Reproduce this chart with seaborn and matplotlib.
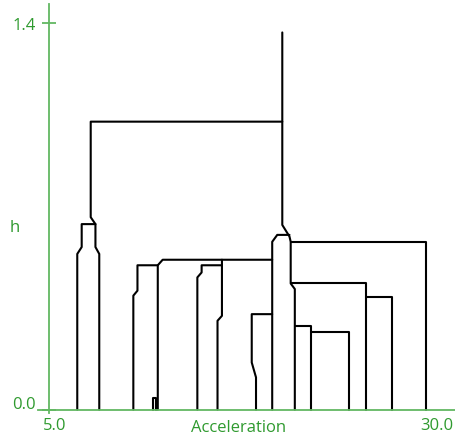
"""Mode tree of acceleration: mode locations traced across bandwidth h."""
import matplotlib
matplotlib.use("Agg")
import matplotlib.pyplot as plt
import pandas as pd
import seaborn as sns
from matplotlib.transforms import ScaledTranslation

sns.set_theme(style="white")
plt.rcParams["font.family"] = ["Open Sans", "DejaVu Sans"]

TEXT_GREEN = "#2f9a2f"
AXIS_GREEN = "#62b862"

# each trace: acceleration values and bandwidth h along the mode path
ROOT_ACC = [20.27, 20.27, 20.74, 20.82, 20.82, 21.09, 21.09]
ROOT_H = [1.366, 0.669, 0.627, 0.608, 0.457, 0.437, 0.0]
SPLIT_TOP_ACC = [19.61, 19.61, 19.94, 20.74]
SPLIT_TOP_H = [0.0, 0.608, 0.633, 0.633]
LEFT_ACC = [20.27, 7.73, 7.73, 8.04, 8.04, 8.29, 8.29]
LEFT_H = [1.043, 1.043, 0.697, 0.672, 0.589, 0.564, 0.0]
TOWER_ACC = [8.04, 7.14, 7.14, 6.85, 6.85]
TOWER_H = [0.672, 0.672, 0.589, 0.564, 0.0]
MID_ACC = [19.61, 12.44, 12.12, 12.12]
MID_H = [0.543, 0.543, 0.523, 0.0]
MID_LEFT_ACC = [12.12, 10.79, 10.79, 10.52, 10.52]
MID_LEFT_H = [0.523, 0.523, 0.431, 0.413, 0.0]
TINY_ACC = [11.84, 11.84, 11.98, 11.98]
TINY_H = [0.0, 0.044, 0.044, 0.0]
CENTER_ACC = [16.32, 16.32, 16.03, 16.03]
CENTER_H = [0.543, 0.340, 0.322, 0.0]
CENTER_LEFT_ACC = [16.32, 14.99, 14.99, 14.71, 14.71]
CENTER_LEFT_H = [0.523, 0.523, 0.497, 0.479, 0.0]
INNER_ACC = [19.61, 18.27, 18.27, 18.55, 18.55]
INNER_H = [0.346, 0.346, 0.171, 0.117, 0.0]
FAR_RIGHT_ACC = [20.82, 29.67, 29.67]
FAR_RIGHT_H = [0.608, 0.608, 0.0]
RIGHT_ACC = [20.82, 25.75, 25.75]
RIGHT_H = [0.457, 0.457, 0.0]
RIGHT_SUB_ACC = [25.75, 27.47, 27.47]
RIGHT_SUB_H = [0.409, 0.409, 0.0]
LOW_ACC = [21.09, 22.18, 22.18]
LOW_H = [0.304, 0.304, 0.0]
LOW_SUB_ACC = [22.18, 24.65, 24.65]
LOW_SUB_H = [0.280, 0.280, 0.0]

TRACES = [
    (ROOT_ACC, ROOT_H), (SPLIT_TOP_ACC, SPLIT_TOP_H), (LEFT_ACC, LEFT_H),
    (TOWER_ACC, TOWER_H), (MID_ACC, MID_H), (MID_LEFT_ACC, MID_LEFT_H),
    (TINY_ACC, TINY_H), (CENTER_ACC, CENTER_H), (CENTER_LEFT_ACC, CENTER_LEFT_H),
    (INNER_ACC, INNER_H), (FAR_RIGHT_ACC, FAR_RIGHT_H), (RIGHT_ACC, RIGHT_H),
    (RIGHT_SUB_ACC, RIGHT_SUB_H), (LOW_ACC, LOW_H), (LOW_SUB_ACC, LOW_SUB_H),
]

frames = []
for i, (acc, h) in enumerate(TRACES):
    frames.append(pd.DataFrame({"acceleration": acc, "h": h, "trace": i}))
df = pd.concat(frames, ignore_index=True)

fig = plt.figure(figsize=(4.56, 4.39), dpi=100)
ax = fig.add_axes([38 / 456, (439 - 413.5) / 439, 418 / 456, 408.5 / 439])

sns.lineplot(data=df, x="acceleration", y="h", units="trace", estimator=None,
             sort=False, color="black", linewidth=1.5, legend=False, ax=ax)

ax.set_xlim(4.28, 31.64)
ax.set_ylim(-0.0101, 1.469)
for side in ["top", "right"]:
    ax.spines[side].set_visible(False)
ax.spines["left"].set_position(("data", 5.0))
ax.spines["bottom"].set_position(("data", 0.0))
for side in ["left", "bottom"]:
    ax.spines[side].set_color(AXIS_GREEN)
    ax.spines[side].set_linewidth(1.3)

ax.set_xticks([5, 30], labels=["5.0", "30.0"])
ax.set_yticks([0, 1.4], labels=["0.0", "1.4"])
ax.tick_params(axis="x", bottom=True, length=0, pad=5, labelsize=12, labelcolor=TEXT_GREEN)
ax.tick_params(axis="y", left=True, direction="inout", length=9.5, width=1.3, color=AXIS_GREEN,
               pad=5, labelsize=12, labelcolor=TEXT_GREEN)
for lbl in ax.get_xticklabels():
    lbl.set_transform(lbl.get_transform() + ScaledTranslation(6 / 100, 0, fig.dpi_scale_trans))
zero_lbl = ax.get_yticklabels()[0]
zero_lbl.set_transform(zero_lbl.get_transform() + ScaledTranslation(0, 7.5 / 100, fig.dpi_scale_trans))

ax.set_xlabel("Acceleration", fontsize=12, color=TEXT_GREEN)
ax.xaxis.set_label_coords(0.481, -0.035)
ax.xaxis.label.set_va("center")
ax.set_ylabel("h", rotation=0, fontsize=12, color=TEXT_GREEN)
ax.yaxis.set_label_coords(-0.056, 0.454)
ax.yaxis.label.set_va("center")
ax.yaxis.label.set_ha("center")

fig.savefig("out.png", dpi=100)
